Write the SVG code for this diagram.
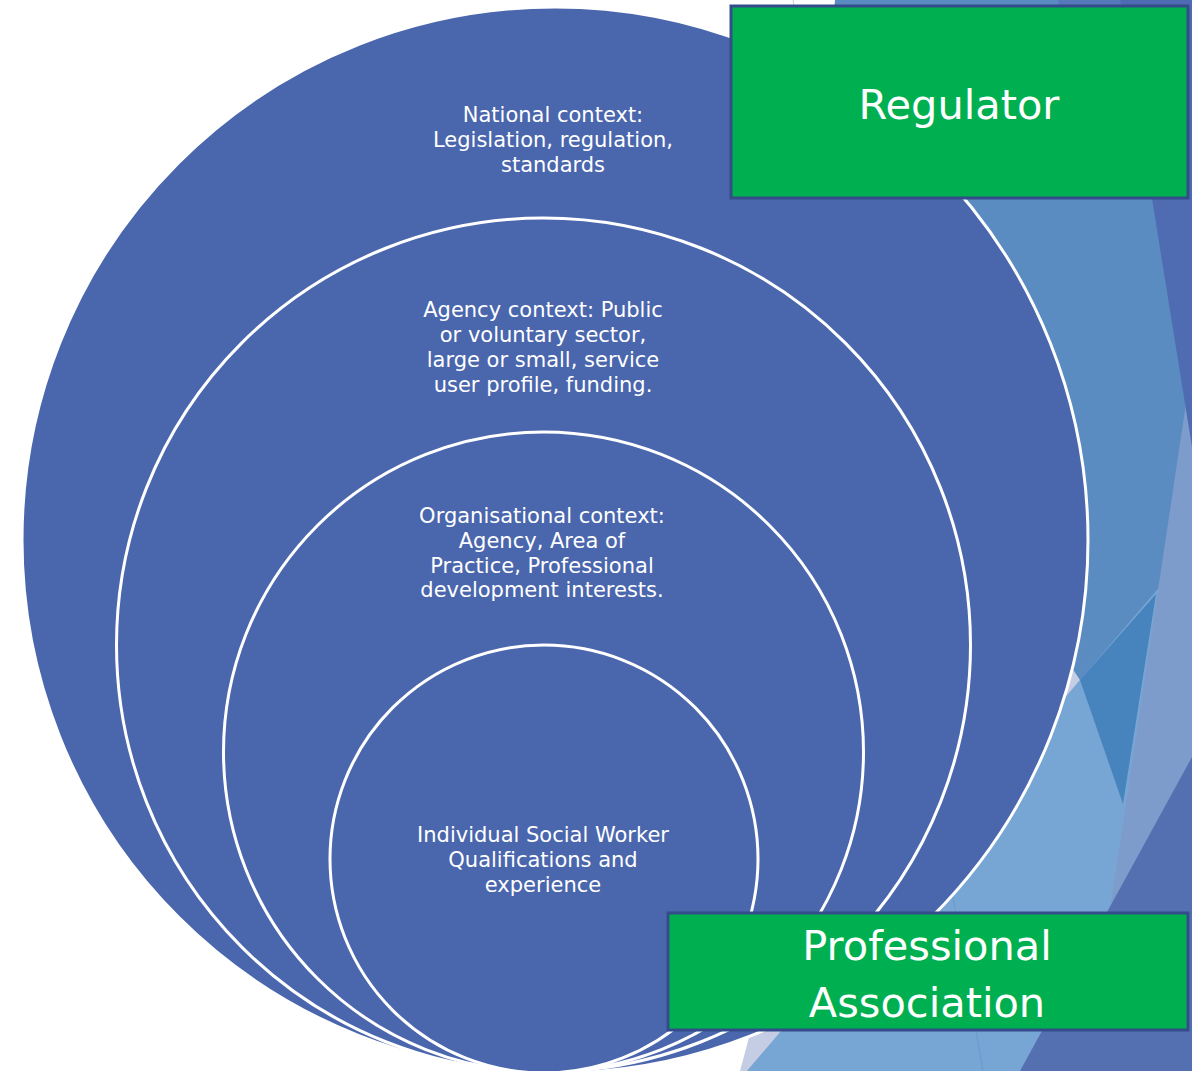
<svg xmlns="http://www.w3.org/2000/svg" width="1192" height="1071" viewBox="0 0 1192 1071">
  <style>
    .ring { fill: #4a66ad; stroke: #ffffff; stroke-width: 3; }
    .ctx { font-family: "DejaVu Sans", "Noto Sans", sans-serif; font-size: 21px; fill: #ffffff; text-anchor: middle; }
    .box { fill: #00b050; stroke: #344d8a; stroke-width: 3; }
    .boxlabel { font-family: "DejaVu Sans", "Noto Sans", sans-serif; font-size: 41.5px; fill: #ffffff; text-anchor: middle; }
  </style>
  <g id="background">
    <rect x="0" y="0" width="1192" height="1071" fill="#ffffff"/>
    <line x1="793" y1="0" x2="795" y2="12" stroke="#d0d0d0" stroke-width="1"/>
    <polygon points="835,0 1192,0 1192,1071 747,1071" fill="#5a8cc1"/>
    <polygon points="1058,0 1120,0 1128,50 1066,50" fill="#5579b9"/>
    <polygon points="1080,680 1192,549 1192,1071 747,1071" fill="#77a6d5"/>
    <polygon points="740,1071 747,1071 1080,680 1072,668 755,1015" fill="#c5cde4"/>
    <polygon points="1080,680 1156,594 1123,804" fill="#4784bd"/>
    <polygon points="1192,380 1192,757 1110,910 1188,390" fill="#7e9ccb"/>
    <polygon points="1120,0 1192,0 1192,447" fill="#4f6cb2"/>
    <polygon points="1192,757 1192,1071 1020,1071" fill="#5470b1"/>
    <line x1="953" y1="897" x2="983" y2="1071" stroke="#6b98c9" stroke-width="1.5" opacity="0.6"/>
  </g>
  <g id="connectors"/>
  <g id="circle-national">
    <circle class="ring" cx="555" cy="540" r="533"/>
    <text class="ctx" x="553" y="122"><tspan x="553">National context:</tspan><tspan x="553" dy="25">Legislation, regulation,</tspan><tspan x="553" dy="25">standards</tspan></text>
  </g>
  <g id="circle-agency">
    <circle class="ring" cx="543.5" cy="645" r="427"/>
    <text class="ctx" x="543" y="317"><tspan x="543">Agency context: Public</tspan><tspan x="543" dy="25">or voluntary sector,</tspan><tspan x="543" dy="25">large or small, service</tspan><tspan x="543" dy="25">user profile, funding.</tspan></text>
  </g>
  <g id="circle-organisational">
    <circle class="ring" cx="543.5" cy="752" r="320"/>
    <text class="ctx" x="542" y="523"><tspan x="542">Organisational context:</tspan><tspan x="542" dy="24.8">Agency, Area of</tspan><tspan x="542" dy="24.8">Practice, Professional</tspan><tspan x="542" dy="24.8">development interests.</tspan></text>
  </g>
  <g id="circle-individual">
    <circle class="ring" cx="544" cy="859" r="214"/>
    <text class="ctx" x="543" y="842"><tspan x="543">Individual Social Worker</tspan><tspan x="543" dy="25">Qualifications and</tspan><tspan x="543" dy="25">experience</tspan></text>
  </g>
  <g id="box-regulator">
    <rect class="box" x="731" y="6" width="457" height="192"/>
    <text class="boxlabel" x="959" y="119">Regulator</text>
  </g>
  <g id="box-professional-association">
    <rect class="box" x="668" y="913" width="520" height="117"/>
    <text class="boxlabel" x="927" y="960"><tspan x="927">Professional</tspan><tspan x="927" dy="57">Association</tspan></text>
  </g>
</svg>
